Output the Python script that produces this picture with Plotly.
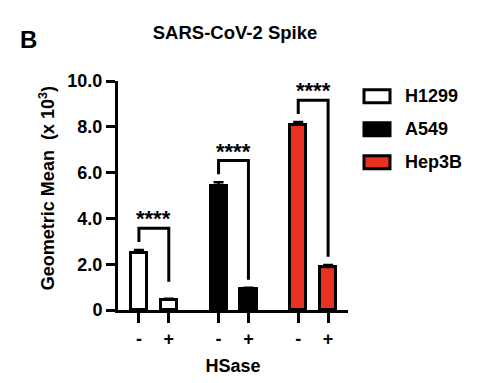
import plotly.graph_objects as go

# ---- data ----
cell_lines = ["H1299", "A549", "Hep3B"]
hsase_labels = ["-", "+"]
means = {
    "H1299": [2.50, 0.45],
    "A549": [5.42, 0.93],
    "Hep3B": [8.10, 1.88],
}
errors = {
    "H1299": [0.12, 0.04],
    "A549": [0.16, 0.04],
    "Hep3B": [0.11, 0.09],
}
significance = ["****", "****", "****"]
y_tick_vals = [0, 2, 4, 6, 8, 10]
y_tick_text = ["0", "2.0", "4.0", "6.0", "8.0", "10.0"]

# ---- styling ----
colors = {"H1299": "white", "A549": "black", "Hep3B": "#E8321F"}
FONT = "Liberation Sans, Arial, sans-serif"
GROUP_STEP = 2.667
BAR_W = 0.54
OFF = 8  # page body margin offset

# plot area in reference pixel coordinates
plot_top, plot_bot, plot_left, plot_right = 80.7, 310.0, 118.0, 348.0
W, H = 488, 383


def px_to_paper_y(py):
    return (plot_bot - py) / (plot_bot - plot_top)


def px_to_paper_x(px):
    return (px - plot_left) / (plot_right - plot_left)


fig = go.Figure()
tickvals, ticktext = [], []
for g, name in enumerate(cell_lines):
    xs = [g * GROUP_STEP + i for i in range(len(hsase_labels))]
    tickvals += xs
    ticktext += hsase_labels
    fig.add_trace(go.Bar(
        x=xs, y=means[name], width=BAR_W, name=name,
        marker=dict(color=colors[name], line=dict(color="black", width=3)),
        error_y=dict(type="data", array=errors[name], arrayminus=[0, 0],
                     symmetric=False, color="black", thickness=2.5, width=5),
        showlegend=False,
    ))
    # significance bracket
    top_left = means[name][0] + errors[name][0]
    top_right = means[name][1] + errors[name][1]
    b_top = top_left + 0.95
    b_left = b_top - 0.6
    b_right = max(top_right + 0.35, 1.23)
    fig.add_shape(type="path",
                  path=f"M {xs[0]},{b_left} L {xs[0]},{b_top} L {xs[1]},{b_top} L {xs[1]},{b_right}",
                  xref="x", yref="y", line=dict(color="black", width=3))
    fig.add_annotation(x=(xs[0] + xs[1]) / 2, y=b_top - 0.22, xref="x", yref="y",
                       text=significance[g], showarrow=False, yanchor="bottom",
                       font=dict(family=FONT, size=22, color="black", weight="bold"))

# custom legend
legend_y_px = [96, 129, 162]
for name, py in zip(cell_lines, legend_y_px):
    fig.add_shape(type="rect", xref="paper", yref="paper",
                  x0=px_to_paper_x(364), x1=px_to_paper_x(390),
                  y0=px_to_paper_y(py + 6.5), y1=px_to_paper_y(py - 6.5),
                  fillcolor=colors[name], line=dict(color="black", width=3))
    fig.add_annotation(x=px_to_paper_x(403), y=px_to_paper_y(py), xref="paper", yref="paper",
                       text=name, showarrow=False, xanchor="left", yanchor="middle",
                       font=dict(family=FONT, size=18, color="black", weight="bold"))

# panel letter
fig.add_annotation(x=px_to_paper_x(28), y=px_to_paper_y(39), xref="paper", yref="paper",
                   text="B", showarrow=False, xanchor="center", yanchor="middle",
                   font=dict(family=FONT, size=24, color="black", weight="bold"))

# y-axis title
fig.add_annotation(x=px_to_paper_x(47), y=px_to_paper_y(188), xref="paper", yref="paper",
                   text="Geometric Mean\u00a0\u00a0(x 10<sup>3</sup>)", textangle=-90,
                   showarrow=False, xanchor="center", yanchor="middle",
                   font=dict(family=FONT, size=18, color="black", weight="bold"))

fig.update_layout(
    width=W, height=H,
    margin=dict(l=plot_left - OFF, r=W - (plot_right - OFF), t=plot_top - OFF,
                b=H - (plot_bot - OFF), autoexpand=False),
    plot_bgcolor="white", paper_bgcolor="white",
    font=dict(family=FONT, size=18, color="black", weight="bold"),
    title=dict(text="SARS-CoV-2 Spike", x=(235 - OFF) / W, xanchor="center",
               y=1 - (33 - OFF) / H, yanchor="middle", xref="container", yref="container",
               font=dict(family=FONT, size=18.5, color="black", weight="bold")),
    showlegend=False,
    bargap=0,
)
fig.update_xaxes(range=[-0.7, 7.0], tickvals=tickvals, ticktext=ticktext,
                 showline=True, linecolor="black", linewidth=3,
                 ticks="outside", ticklen=10, tickwidth=3, tickcolor="black",
                 showgrid=False, zeroline=False, automargin=False,
                 tickfont=dict(family=FONT, size=18, weight="bold"),
                 title=dict(text="HSase", standoff=12,
                            font=dict(family=FONT, size=18, weight="bold")))
fig.update_yaxes(range=[0, 10], tickvals=y_tick_vals, ticktext=y_tick_text,
                 showline=True, linecolor="black", linewidth=3,
                 ticks="outside", ticklen=9, tickwidth=3, tickcolor="black",
                 showgrid=False, zeroline=False, automargin=False,
                 tickfont=dict(family=FONT, size=18, weight="bold"))

fig.write_html("out.html")
